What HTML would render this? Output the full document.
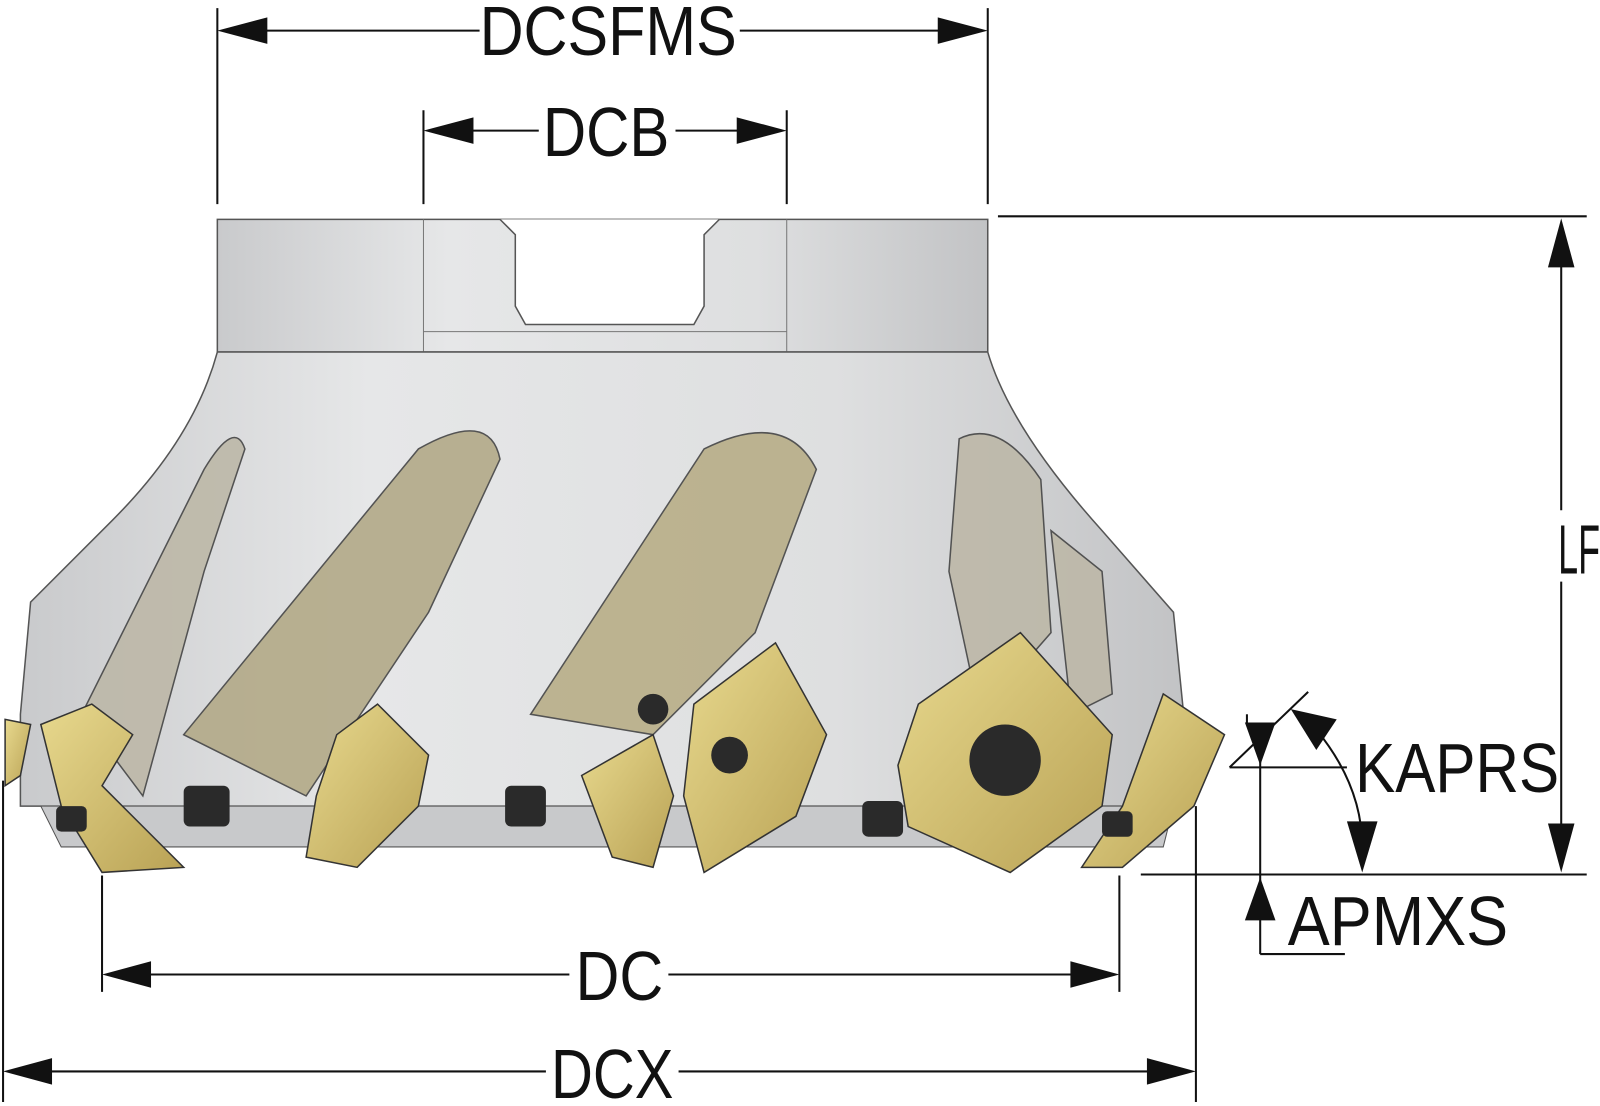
<!DOCTYPE html>
<html><head><meta charset="utf-8"><style>
html,body{margin:0;padding:0;background:#fff;width:1600px;height:1106px;overflow:hidden}
svg{display:block}
text{font-family:"Liberation Sans Narrow","Liberation Sans",sans-serif;font-size:68px;fill:#111}
</style></head><body>
<svg width="1600" height="1106" viewBox="0 0 1600 1106" xmlns="http://www.w3.org/2000/svg">
<defs>
<linearGradient id="body" x1="0" x2="1" y1="0" y2="0">
<stop offset="0" stop-color="#c9cacc"/><stop offset="0.3" stop-color="#e6e7e8"/><stop offset="0.7" stop-color="#dedfe0"/><stop offset="1" stop-color="#c2c3c5"/>
</linearGradient>
<linearGradient id="gold" x1="0" x2="1" y1="0" y2="1">
<stop offset="0" stop-color="#e8d98e"/><stop offset="1" stop-color="#b9a255"/>
</linearGradient>
</defs>
<g transform="scale(1.0204)">
<path d="M213 215 L968 215 L968 345 L213 345 Z" fill="url(#body)" stroke="#555" stroke-width="1.5"/>
<path d="M490 215 L505 230 L505 300 L515 318 L680 318 L690 300 L690 230 L705 215" fill="#fff" stroke="#555" stroke-width="1.5"/>
<line x1="415" y1="215" x2="415" y2="760" stroke="#777" stroke-width="1"/>
<line x1="771" y1="215" x2="771" y2="760" stroke="#777" stroke-width="1"/>
<line x1="415" y1="325" x2="771" y2="325" stroke="#777"/>
<path d="M213 345 L968 345 Q990 420 1080 520 L1150 600 L1160 700 L1160 790 L20 790 L20 700 L30 590 L110 510 Q190 430 213 345 Z" fill="url(#body)" stroke="#555" stroke-width="1.5"/>
<path d="M40 790 L1150 790 L1140 830 L60 830 Z" fill="#c8c9cb" stroke="#555"/>
<g fill="#bdb8a8" stroke="#444" stroke-width="1.5" opacity="0.9">
<path d="M80 700 L200 460 Q230 410 240 440 L200 560 L140 780 Z"/>
<path d="M180 720 L410 440 Q480 400 490 450 L420 600 L300 780 Z" fill="#b3aa88"/>
<path d="M520 700 L690 440 Q770 400 800 460 L740 620 L640 720 Z" fill="#b8ae88"/>
<path d="M940 430 Q980 410 1020 470 L1030 620 L960 700 L930 560 Z"/>
<path d="M1030 520 L1080 560 L1090 680 L1050 700 Z"/>
</g>
<g fill="url(#gold)" stroke="#333" stroke-width="1.5">
<path d="M40 710 L90 690 L130 720 L100 770 L180 850 L100 855 L60 790 Z"/>
<path d="M5 705 L30 710 L20 760 L5 770 Z"/>
<path d="M330 720 L370 690 L420 740 L410 790 L350 850 L300 840 L310 780 Z"/>
<path d="M570 760 L640 720 L660 780 L640 850 L600 840 Z"/>
<path d="M680 690 L760 630 L810 720 L780 800 L690 855 L670 780 Z"/>
<path d="M900 690 L1000 620 L1090 720 L1080 790 L990 855 L890 810 L880 750 Z"/>
<path d="M1140 680 L1200 720 L1170 790 L1100 850 L1060 850 L1100 790 Z"/>
</g>
<g fill="#2a2a2a">
<circle cx="985" cy="745" r="35"/><circle cx="715" cy="740" r="18"/><circle cx="640" cy="695" r="15"/>
<rect x="180" y="770" width="45" height="40" rx="6"/><rect x="495" y="770" width="40" height="40" rx="6"/>
<rect x="845" y="785" width="40" height="35" rx="6"/><rect x="55" y="790" width="30" height="25" rx="5"/>
<rect x="1080" y="795" width="30" height="25" rx="5"/>
</g>
<g stroke="#111" stroke-width="2" fill="none">
<line x1="213" y1="8" x2="213" y2="200"/><line x1="968" y1="8" x2="968" y2="200"/>
<line x1="240" y1="30" x2="470" y2="30"/><line x1="725" y1="30" x2="940" y2="30"/>
<line x1="415" y1="108" x2="415" y2="200"/><line x1="771" y1="108" x2="771" y2="200"/>
<line x1="440" y1="128" x2="528" y2="128"/><line x1="662" y1="128" x2="745" y2="128"/>
<line x1="978" y1="212" x2="1555" y2="212"/>
<line x1="1530" y1="250" x2="1530" y2="500"/><line x1="1530" y1="570" x2="1530" y2="820"/>
<line x1="1118" y1="857" x2="1555" y2="857"/>
<line x1="100" y1="858" x2="100" y2="972"/><line x1="1097" y1="858" x2="1097" y2="972"/>
<line x1="130" y1="955" x2="558" y2="955"/><line x1="655" y1="955" x2="1070" y2="955"/>
<line x1="3" y1="765" x2="3" y2="1080"/><line x1="1172" y1="790" x2="1172" y2="1080"/>
<line x1="35" y1="1050" x2="535" y2="1050"/><line x1="665" y1="1050" x2="1145" y2="1050"/>
<line x1="1235" y1="730" x2="1235" y2="935"/><line x1="1235" y1="935" x2="1318" y2="935"/>
<line x1="1205" y1="752" x2="1282" y2="678"/><line x1="1205" y1="752" x2="1320" y2="752"/>
<line x1="1222" y1="710" x2="1222" y2="700"/>
<path d="M1290 715 Q1335 770 1335 830"/>
</g>
<g fill="#111">
<polygon points="213,30 262,17 262,43"/><polygon points="968,30 919,17 919,43"/>
<polygon points="415,128 464,115 464,141"/><polygon points="771,128 722,115 722,141"/>
<polygon points="1530,214 1517,262 1543,262"/><polygon points="1530,855 1517,807 1543,807"/>
<polygon points="100,955 148,942 148,968"/><polygon points="1097,955 1049,942 1049,968"/>
<polygon points="3,1050 51,1037 51,1063"/><polygon points="1172,1050 1124,1037 1124,1063"/>
<polygon points="1235,750 1220,708 1250,708"/><polygon points="1235,860 1220,902 1250,902"/>
<polygon points="1265,695 1310,705 1290,735"/><polygon points="1335,855 1320,805 1350,805"/>
</g>
<text x="470" y="54" textLength="252" lengthAdjust="spacingAndGlyphs">DCSFMS</text>
<text x="532" y="153" textLength="124" lengthAdjust="spacingAndGlyphs">DCB</text>
<text x="1527" y="562" textLength="41" lengthAdjust="spacingAndGlyphs">LF</text>
<text x="1328" y="776" textLength="200" lengthAdjust="spacingAndGlyphs">KAPRS</text>
<text x="1262" y="926" textLength="216" lengthAdjust="spacingAndGlyphs">APMXS</text>
<text x="564" y="980" textLength="86" lengthAdjust="spacingAndGlyphs">DC</text>
<text x="540" y="1076" textLength="120" lengthAdjust="spacingAndGlyphs">DCX</text>
</g>
</svg>
</body></html>
